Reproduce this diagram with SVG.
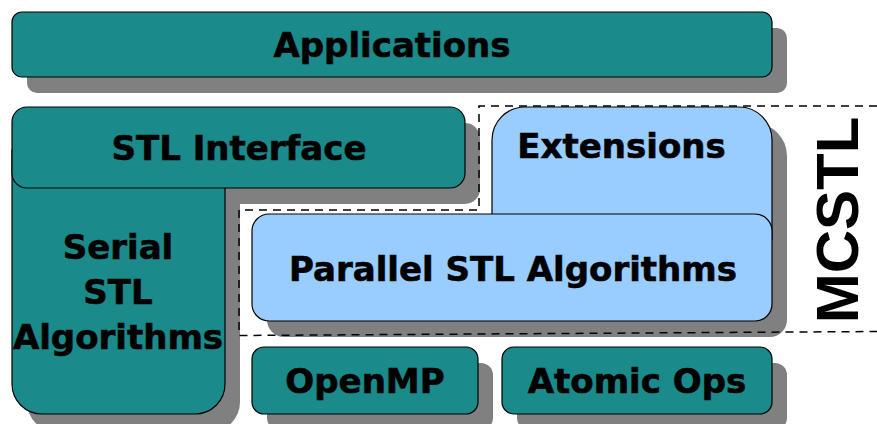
<svg xmlns="http://www.w3.org/2000/svg" width="877" height="424" viewBox="0 0 877 424">
<style>
.sh{fill:#808080;stroke:none}
.teal{fill:#1b8a8a;stroke:#000;stroke-width:1.2}
.blue{fill:#99ccff;stroke:#000;stroke-width:1.2}
.lbl{font-family:"DejaVu Sans",Verdana,sans-serif;font-weight:bold;font-size:34px;fill:#000;stroke:#000;stroke-width:0.6;text-anchor:middle}
.dash{fill:none;stroke:#000;stroke-width:1.5;stroke-dasharray:8 6}
</style>
<rect width="877" height="424" fill="#fff"/>
<g id="shadows">
<rect class="sh" x="27" y="28" width="760" height="65" rx="10"/>
<path class="sh" d="M27,166 V402 A30 30 0 0 0 57 432 H210 A30 30 0 0 0 240 402 V166 Z"/>
<rect class="sh" x="27" y="123" width="453" height="81" rx="15"/>
<path class="sh" d="M507,256 V156 A33 33 0 0 1 540,123 H754 A33 33 0 0 1 787,156 V256 Z"/>
<rect class="sh" x="267" y="230" width="520" height="107" rx="17"/>
<rect class="sh" x="267" y="363" width="226" height="67" rx="12"/>
<rect class="sh" x="517" y="363" width="270" height="67" rx="12"/>
</g>
<g id="connectors">
<path class="dash" d="M877,106 H479 V210 H239 V335.5 L877,331.5"/>
</g>
<g id="applications">
<rect class="teal" x="12" y="12" width="760" height="65" rx="10"/>
<text class="lbl" x="392" y="57">Applications</text>
</g>
<g id="serial-stl-algorithms">
<path class="teal" d="M12,150 V384 A30 30 0 0 0 42 414 H195 A30 30 0 0 0 225 384 V150 Z"/>
<text class="lbl" x="118" y="259">Serial</text>
<text class="lbl" x="118" y="304">STL</text>
<text class="lbl" x="118" y="349">Algorithms</text>
</g>
<g id="stl-interface">
<rect class="teal" x="12" y="107" width="453" height="81" rx="15"/>
<text class="lbl" x="239" y="160">STL Interface</text>
</g>
<g id="extensions">
<path class="blue" d="M492,240 V140 A33 33 0 0 1 525,107 H739 A33 33 0 0 1 772,140 V240 Z"/>
<text class="lbl" x="621.5" y="158">Extensions</text>
</g>
<g id="parallel-stl-algorithms">
<rect class="blue" x="252" y="214" width="520" height="107" rx="17"/>
<text class="lbl" x="513" y="281">Parallel STL Algorithms</text>
</g>
<g id="openmp">
<rect class="teal" x="252" y="347" width="226" height="67" rx="12"/>
<text class="lbl" x="365" y="393">OpenMP</text>
</g>
<g id="atomic-ops">
<rect class="teal" x="502" y="347" width="270" height="67" rx="12"/>
<text class="lbl" x="637" y="393">Atomic Ops</text>
</g>
<g id="mcstl">
<text transform="translate(858,220) rotate(-90)" x="0" y="0" style="font-family:'Liberation Sans',Arial,sans-serif;font-weight:bold;font-size:60px;text-anchor:middle;fill:#000">MCSTL</text>
</g>
</svg>
